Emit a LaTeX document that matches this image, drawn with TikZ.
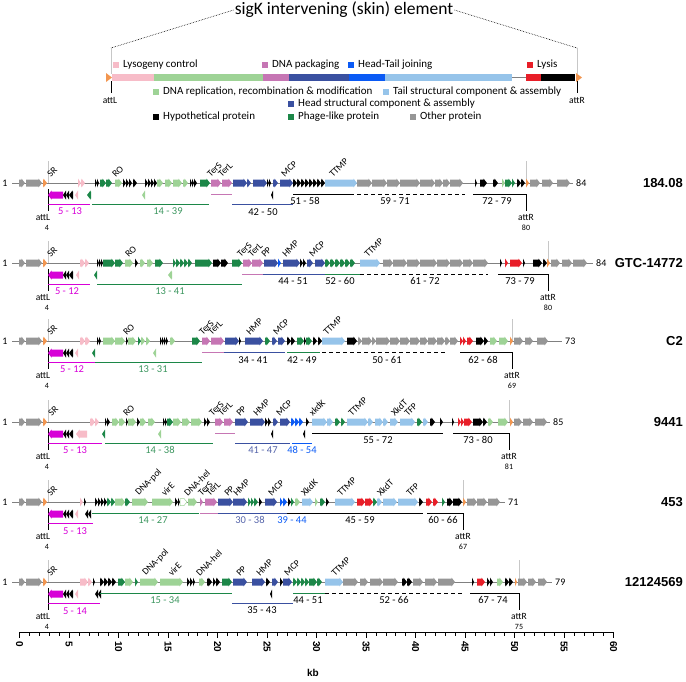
\documentclass[tikz,border=0pt]{standalone}
\usepackage{fontspec}
\setmainfont{Carlito}
\newfontfamily\arialb{Liberation Sans}

\definecolor{oth}{RGB}{150,150,150}
\definecolor{orn}{RGB}{242,150,80}
\definecolor{lys}{RGB}{247,188,200}
\definecolor{rep}{RGB}{158,211,150}
\definecolor{pak}{RGB}{198,118,180}
\definecolor{hed}{RGB}{58,80,160}
\definecolor{hdt}{RGB}{10,90,245}
\definecolor{tal}{RGB}{150,196,234}
\definecolor{lyz}{RGB}{232,30,40}
\definecolor{hyp}{RGB}{0,0,0}
\definecolor{phg}{RGB}{28,135,72}
\definecolor{srg}{RGB}{215,0,215}
\definecolor{grn}{RGB}{60,150,95}
\definecolor{slt}{RGB}{85,100,170}

\tikzset{
  gline/.style={draw=black!50, line width=0.6pt},
  attline/.style={draw=black!22, line width=0.5pt},
  mod/.style={line width=1pt},
  glab/.style={rotate=45, anchor=south west, inner sep=0pt, font=\fontsize{9.5}{10}\selectfont},
  mlab/.style={inner sep=0pt, font=\fontsize{10.5}{11}\selectfont},
  attl/.style={inner sep=0pt, font=\fontsize{9.5}{10}\selectfont},
  attn/.style={inner sep=0pt, font=\fontsize{8}{9}\selectfont},
  numl/.style={inner sep=0pt, font=\fontsize{10}{11}\selectfont},
  rname/.style={anchor=east, inner sep=0pt, font=\arialb\bfseries\fontsize{13}{14}\selectfont},
  leg/.style={anchor=west, inner sep=0pt, font=\fontsize{11}{12}\selectfont},
  tick/.style={rotate=-90, anchor=west, inner sep=0pt, font=\arialb\bfseries\fontsize{10}{10}\selectfont},
}

% forward gene from #1 to #2 on row \ry
\newcommand{\gfw}[3]{%
  \pgfmathsetmacro{\hx}{max(#1,#2-3.5)}%
  \fill[fill=#3] (#1,\ry-3.5) -- (\hx,\ry-3.5) -- (\hx,\ry-4.5) -- (#2,\ry)
    -- (\hx,\ry+4.5) -- (\hx,\ry+3.5) -- (#1,\ry+3.5) -- cycle;}
% reverse gene, drawn below the row
\newcommand{\grv}[3]{%
  \pgfmathsetmacro{\hx}{min(#2,#1+3.5)}%
  \pgfmathsetmacro{\rz}{\ry+12}%
  \fill[fill=#3] (#2,\rz-3.5) -- (\hx,\rz-3.5) -- (\hx,\rz-4.5) -- (#1,\rz)
    -- (\hx,\rz+4.5) -- (\hx,\rz+3.5) -- (#2,\rz+3.5) -- cycle;}
% one genome row: y, line end, last gene, strain, attR x, attR gene, id
\newcommand{\genome}[7]{%
  \def\ry{#1}%
  \draw[gline] (12,#1) -- (#2,#1);
  \node[numl] (one#7) at (5,#1) {1};
  \node[numl, anchor=west] (end#7) at (#2+3,#1) {#3};
  \node[rname] (name#7) at (683,#1) {#4};
  \draw[attline] (48,#1-22) -- (48,#1);
  \draw[attline] (#5,#1-22) -- (#5,#1);
  \draw[line width=0.5pt] (48,#1+6) -- (48,#1+28);
  \draw[line width=0.5pt] (#5,#1+11) -- (#5,#1+28);
  \node[attl] (attL#7) at (43,#1+34) {attL};
  \node[attn] (nL#7) at (47,#1+45) {4};
  \node[attl] (attR#7) at (#5,#1+34) {attR};
  \node[attn] (nR#7) at (#5,#1+45) {#6};
  \gfw{19}{25}{oth}\gfw{26}{42}{oth}\gfw{43}{47}{orn}
  \grv{48}{63}{srg}\grv{63}{66}{hyp}\grv{66}{69}{hyp}\grv{69}{73}{hyp}
}

\begin{document}
\begin{tikzpicture}[x=1pt, y=-1pt]
\useasboundingbox (0,0) rectangle (686,681);

% skin element overview
\node[font=\fontsize{17.5}{18}\selectfont, inner sep=1pt] (title) at (344,10) {sigK intervening (skin) element};
\draw[densely dotted, line width=0.6pt] (title.west) -- (111,48);
\draw[densely dotted, line width=0.6pt] (title.east) -- (577,48);
\draw[attline] (111,48) -- (111,74);
\draw[attline] (577,48) -- (577,74);
\draw[gline] (512,77.5) -- (526,77.5);
\fill[fill=lys] (112,74) rectangle (154,81);
\fill[fill=rep] (154,74) rectangle (263,81);
\fill[fill=pak] (263,74) rectangle (289,81);
\fill[fill=hed] (289,74) rectangle (349,81);
\fill[fill=hdt] (349,74) rectangle (385,81);
\fill[fill=tal] (385,74) rectangle (512,81);
\fill[fill=lyz] (526,74) rectangle (541,81);
\fill[fill=hyp] (541,74) rectangle (575,81);
\fill[fill=orn] (106,73) -- (112,77.5) -- (106,82) -- cycle;
\fill[fill=orn] (576,73) -- (582,77.5) -- (576,82) -- cycle;
\draw[line width=0.5pt] (111,81) -- (111,93);
\draw[line width=0.5pt] (577,81) -- (577,93);
\node[attl] (attLtop) at (110,100) {attL};
\node[attl] (attRtop) at (577,100) {attR};

% legend
\foreach \x/\y/\c/\t in {113/65/lys/Lysogeny control, 262/65/pak/DNA packaging,
    348/65/hdt/Head-Tail joining, 527/65/lyz/Lysis,
    153/92/rep/{DNA replication, recombination \& modification},
    383/92/tal/Tail structural component \& assembly,
    288/104/hed/Head structural component \& assembly,
    153/117/hyp/Hypothetical protein, 288/117/phg/Phage-like protein, 410/117/oth/Other protein} {
  \fill[fill=\c] (\x,\y-3) rectangle (\x+6,\y+3);
  \node[leg] (leg\x-\y) at (\x+10,\y) {\t};
}

% 184.08
\genome{183}{573}{84}{184.08}{526}{80}{a}
\foreach \a/\b/\c in {78/81/lys, 81/85/lys, 95/97/hyp, 97/99/hyp, 100/106/phg, 106/112/phg,
    115/122/rep, 123/126/hyp, 126/129/hyp, 129/132/hyp, 133/137/hyp, 145/148/hyp, 148/151/hyp,
    151/154/hyp, 154/157/hyp, 157/163/rep, 165/172/rep, 173/182/rep, 183/188/rep, 190/192/hyp,
    192/194/hyp, 194/197/hyp, 200/210/phg, 211/221/pak, 222/232/pak, 233/247/hed, 247/251/hed,
    253/267/hed, 267/269/hyp, 269/271/hyp, 273/278/hed, 280/293/hed, 293/297/hyp, 297/301/hyp,
    301/305/hyp, 305/309/hyp, 309/313/hyp, 313/317/hyp, 317/321/hyp, 321/325/hyp, 325/357/tal,
    357/372/oth, 372/387/oth, 387/400/oth, 400/420/oth, 420/435/oth, 435/443/oth, 443/450/oth,
    450/463/oth, 475/477/hyp, 480/487/hyp, 493/498/hyp, 502/505/rep, 505/512/phg, 512/515/phg,
    517/521/hyp, 521/525/hyp, 526/529/orn, 530/540/oth, 542/553/oth, 557/570/oth}
  \gfw{\a}{\b}{\c};
\foreach \a/\b/\c in {75/78/lys, 87/91/phg, 142/145/rep, 271/273/hyp}
  \grv{\a}{\b}{\c};
\foreach \a/\b/\c/\d in {48/90/srg/21, 92/209/phg/21, 211/232/pak/11, 232/293/hed/21,
    293/350/hyp/11, 473/526/hyp/11}
  \draw[mod, color=\c] (\a,\ry+\d) -- (\b,\ry+\d);
\draw[mod, dash pattern=on 4pt off 3pt] (350,\ry+11) -- (465,\ry+11);
\foreach \x/\y/\c/\t in {70/28/srg/5 - 13, 168/28/grn/14 - 39, 263/29/hyp/42 - 50,
    305/18/hyp/51 - 58, 395/18/hyp/59 - 71, 497/18/hyp/72 - 79}
  \node[mlab, text=\c] (m\ry-\x) at (\x,\ry+\y) {\t};
\foreach \x/\t in {51/SR, 116/RO, 211/TerS, 222/TerL, 285/MCP, 333/TTMP}
  \node[glab] (g\ry-\x) at (\x,\ry-5) {\t};

% GTC-14772
\genome{263}{593}{84}{GTC-14772}{548}{80}{b}
\foreach \a/\b/\c in {80/85/lys, 85/89/lys, 97/99/hyp, 99/101/hyp, 101/103/hyp, 103/115/phg,
    115/123/phg, 125/133/rep, 135/138/hyp, 140/145/rep, 147/153/rep, 155/163/phg, 173/176/phg,
    176/180/phg, 180/184/phg, 184/188/phg, 188/192/phg, 195/212/phg, 213/221/hyp, 221/228/hyp,
    232/242/phg, 243/252/pak, 252/263/pak, 264/278/hed, 278/281/hdt, 283/300/hed, 300/303/hyp,
    303/306/hyp, 307/313/hed, 315/325/hed, 325/330/phg, 330/335/phg, 335/340/phg, 340/345/phg,
    345/350/phg, 350/355/phg, 360/380/tal, 383/393/oth, 393/407/oth, 407/420/oth, 420/437/oth,
    437/450/oth, 450/463/oth, 463/473/oth, 473/488/oth, 500/502/hyp, 505/508/lyz, 510/522/lyz,
    523/525/hyp, 533/542/hyp, 543/547/hyp, 547/550/orn, 551/560/oth, 562/572/oth, 573/587/oth}
  \gfw{\a}{\b}{\c};
\foreach \a/\b/\c in {76/79/lys, 94/97/phg, 168/172/rep}
  \grv{\a}{\b}{\c};
\foreach \a/\b/\c/\d in {48/90/srg/21, 97/242/phg/21, 242/263/pak/11, 263/325/hed/11,
    325/360/phg/11, 498/548/hyp/11}
  \draw[mod, color=\c] (\a,\ry+\d) -- (\b,\ry+\d);
\draw[mod, dash pattern=on 4pt off 3pt] (360,\ry+11) -- (488,\ry+11);
\foreach \x/\y/\c/\t in {67/28/srg/5 - 12, 170/28/grn/13 - 41, 293/18/hyp/44 - 51,
    340/18/hyp/52 - 60, 425/18/hyp/61 - 72, 520/18/hyp/73 - 79}
  \node[mlab, text=\c] (m\ry-\x) at (\x,\ry+\y) {\t};
\foreach \x/\t in {51/SR, 129/RO, 241/TerS, 252/TerL, 265/PP, 286/HMP, 313/MCP, 368/TTMP}
  \node[glab] (g\ry-\x) at (\x,\ry-5) {\t};

% C2
\genome{341}{562}{73}{C2}{512}{69}{c}
\foreach \a/\b/\c in {80/85/lys, 85/90/lys, 97/99/hyp, 99/101/hyp, 103/115/rep, 115/125/rep,
    126/128/hyp, 128/136/rep, 138/141/phg, 141/145/rep, 146/150/rep, 160/162/hyp, 162/164/hyp,
    164/166/hyp, 166/168/hyp, 170/175/rep, 192/200/phg, 202/210/pak, 211/224/pak, 225/239/hed,
    239/241/hyp, 245/263/hed, 265/270/phg, 272/277/hed, 278/285/hed, 287/291/hyp, 291/295/hyp,
    297/304/phg, 304/306/hyp, 306/312/phg, 313/317/hyp, 318/322/hyp, 322/345/tal, 347/357/hyp,
    358/362/oth, 362/372/oth, 372/376/oth, 376/390/oth, 390/400/oth, 400/410/oth, 410/420/oth,
    420/428/oth, 428/437/oth, 437/445/oth, 445/450/oth, 450/458/oth, 460/463/lyz, 463/466/lyz,
    467/473/lyz, 476/484/hyp, 484/488/hyp, 490/497/rep, 499/508/rep, 510/513/orn, 514/523/oth,
    525/533/oth, 537/548/oth}
  \gfw{\a}{\b}{\c};
\foreach \a/\b/\c in {75/78/lys, 92/95/phg, 153/156/rep}
  \grv{\a}{\b}{\c};
\foreach \a/\b/\c/\d in {202/224/pak/11, 224/285/hed/11, 287/320/phg/11, 460/512/hyp/11,
    48/95/srg/21, 95/202/phg/21}
  \draw[mod, color=\c] (\a,\ry+\d) -- (\b,\ry+\d);
\draw[mod, dash pattern=on 4pt off 3pt] (322,\ry+11) -- (447,\ry+11);
\foreach \x/\y/\c/\t in {72/28/srg/5 - 12, 153/28/grn/13 - 31, 253/19/hyp/34 - 41,
    302/19/hyp/42 - 49, 387/19/hyp/50 - 61, 483/19/hyp/62 - 68}
  \node[mlab, text=\c] (m\ry-\x) at (\x,\ry+\y) {\t};
\foreach \x/\t in {51/SR, 127/RO, 203/TerS, 212/TerL, 250/HMP, 277/MCP, 327/TTMP}
  \node[glab] (g\ry-\x) at (\x,\ry-5) {\t};

% 9441
\genome{422}{550}{85}{9441}{509}{81}{d}
\foreach \a/\b/\c in {90/95/lys, 95/99/lys, 105/107/hyp, 107/110/hyp, 112/119/rep, 119/125/rep,
    126/128/hyp, 128/136/rep, 137/140/hyp, 140/146/rep, 148/155/rep, 163/165/hyp, 165/167/hyp,
    167/173/phg, 173/181/rep, 182/190/rep, 191/202/rep, 204/207/hyp, 207/210/hyp, 215/223/pak,
    224/233/pak, 235/248/hed, 250/265/hed, 265/268/hyp, 268/271/hyp, 273/278/hed, 280/290/hed,
    291/295/hdt, 295/299/hdt, 299/303/hdt, 306/309/hyp, 312/327/tal, 327/333/tal, 335/340/phg,
    341/345/phg, 347/368/tal, 368/373/tal, 375/383/tal, 383/388/tal, 390/398/tal, 400/415/tal,
    417/422/phg, 423/428/tal, 430/435/hyp, 440/443/hyp, 452/454/hyp, 458/461/lyz, 461/464/lyz,
    464/472/lyz, 473/483/hyp, 483/487/hyp, 488/493/rep, 498/508/rep, 510/513/orn, 514/522/oth,
    523/533/oth, 535/547/oth}
  \gfw{\a}{\b}{\c};
\foreach \a/\b/\c in {76/87/lys, 102/105/phg, 158/161/rep, 271/273/hyp, 303/305/hyp}
  \grv{\a}{\b}{\c};
\foreach \a/\b/\c/\d in {215/235/pak/11, 312/443/hyp/11, 453/509/hyp/11, 48/102/srg/21,
    105/213/phg/21, 235/290/hed/21, 292/312/hdt/21}
  \draw[mod, color=\c] (\a,\ry+\d) -- (\b,\ry+\d);
\foreach \x/\y/\c/\t in {75/28/srg/5 - 13, 160/28/grn/14 - 38, 263/28/slt/41 - 47,
    302/28/hdt/48 - 54, 378/18/hyp/55 - 72, 478/18/hyp/73 - 80}
  \node[mlab, text=\c] (m\ry-\x) at (\x,\ry+\y) {\t};
\foreach \x/\t in {52/SR, 127/RO, 213/TerS, 222/TerL, 240/PP, 257/HMP, 280/MCP, 313/xkdK,
    352/TTMP, 395/XkdT, 408/TFP}
  \node[glab] (g\ry-\x) at (\x,\ry-5) {\t};

% 453
\genome{502}{505}{71}{453}{463}{67}{e}
\foreach \a/\b/\c in {80/83/lys, 84/86/hyp, 95/98/hyp, 98/101/hyp, 101/104/hyp, 104/107/hyp,
    107/111/phg, 111/115/phg, 115/125/rep, 125/130/phg, 132/148/rep, 152/173/rep, 175/178/hyp,
    178/180/hyp, 188/197/rep, 200/203/pak, 205/217/pak, 218/233/hed, 233/247/hed, 248/251/phg,
    251/254/phg, 254/258/phg, 259/262/hyp, 265/277/hed, 280/283/hdt, 283/287/hdt, 288/291/hyp,
    291/294/phg, 295/300/rep, 302/313/tal, 315/318/rep, 320/325/phg, 326/329/hyp, 335/355/tal,
    357/365/lyz, 365/373/lyz, 373/377/phg, 377/382/tal, 383/397/tal, 398/418/tal, 419/423/hyp,
    426/432/lyz, 433/438/lyz, 442/445/phg, 447/453/hyp, 453/462/hyp, 463/466/orn, 467/477/oth,
    477/487/oth, 488/500/oth}
  \gfw{\a}{\b}{\c};
\filldraw[draw=rep, fill=white, line width=0.5pt] (180,\ry-3.5) -- (184,\ry-3.5) -- (187,\ry)
  -- (184,\ry+3.5) -- (180,\ry+3.5) -- cycle;
\foreach \a/\b/\c in {75/78/lys, 85/88/hyp, 88/91/hyp}
  \grv{\a}{\b}{\c};
\foreach \a/\b/\c/\d in {92/199/phg/11, 200/218/pak/11, 218/287/hed/11, 287/423/hyp/11,
    427/463/hyp/11, 48/93/srg/21}
  \draw[mod, color=\c] (\a,\ry+\d) -- (\b,\ry+\d);
\foreach \x/\y/\c/\t in {75/29/srg/5 - 13, 153/18/grn/14 - 27, 250/18/slt/30 - 38,
    292/18/hdt/39 - 44, 360/18/hyp/45 - 59, 443/18/hyp/60 - 66}
  \node[mlab, text=\c] (m\ry-\x) at (\x,\ry+\y) {\t};
\foreach \x/\t in {51/SR, 140/DNA-pol, 165/virE, 188/DNA-hel, 202/TerS, 210/TerL, 228/PP,
    237/HMP, 272/MCP, 305/XkdK, 341/TTMP, 381/XkdT, 410/TFP}
  \node[glab] (g\ry-\x) at (\x,\ry-5) {\t};

% 12124569
\genome{582}{552}{79}{12124569}{519}{75}{f}
\foreach \a/\b/\c in {80/88/lys, 88/92/lys, 93/95/hyp, 100/104/hyp, 104/108/hyp, 108/112/hyp,
    112/116/hyp, 118/125/phg, 125/133/rep, 135/138/phg, 140/158/rep, 160/183/rep, 187/190/hyp,
    190/193/hyp, 193/195/hyp, 199/205/rep, 207/212/hyp, 213/216/hyp, 216/220/hyp, 222/232/phg,
    233/247/hed, 252/265/hed, 266/270/hyp, 272/278/hed, 280/283/hyp, 283/292/hed, 293/297/phg,
    297/301/phg, 301/305/phg, 305/309/phg, 309/317/phg, 317/322/phg, 325/343/tal, 343/358/oth,
    360/368/oth, 370/383/oth, 383/398/oth, 402/407/hyp, 407/412/hyp, 413/423/oth, 425/437/oth,
    438/455/oth, 472/474/hyp, 477/485/lyz, 487/490/hyp, 490/493/hyp, 497/503/rep, 505/509/hyp,
    509/513/hyp, 515/517/orn, 518/527/oth, 528/536/oth, 538/547/oth}
  \gfw{\a}{\b}{\c};
\foreach \a/\b/\c in {75/78/lys, 95/98/hyp, 98/101/hyp, 270/272/hyp}
  \grv{\a}{\b}{\c};
\foreach \a/\b/\c/\d in {100/232/phg/11, 293/325/phg/11, 470/519/hyp/11, 48/100/srg/21,
    232/293/hed/21}
  \draw[mod, color=\c] (\a,\ry+\d) -- (\b,\ry+\d);
\draw[mod, dash pattern=on 4pt off 3pt] (325,\ry+11) -- (462,\ry+11);
\foreach \x/\y/\c/\t in {75/29/srg/5 - 14, 165/18/grn/15 - 34, 262/28/hyp/35 - 43,
    308/18/hyp/44 - 51, 394/18/hyp/52 - 66, 493/18/hyp/67 - 74}
  \node[mlab, text=\c] (m\ry-\x) at (\x,\ry+\y) {\t};
\foreach \x/\t in {51/SR, 147/DNA-pol, 172/virE, 200/DNA-hel, 240/PP, 260/HMP, 288/MCP,
    335/TTMP}
  \node[glab] (g\ry-\x) at (\x,\ry-5) {\t};

% kb axis
\draw[line width=0.6pt] (19.5,632) -- (613.5,632);
\foreach \k in {0,...,60}
  \draw[line width=0.6pt] ({19.5+9.9*\k},632) -- ({19.5+9.9*\k},636);
\foreach \k in {0,5,...,60} {
  \draw[line width=0.6pt] ({19.5+9.9*\k},632) -- ({19.5+9.9*\k},638);
  \node[tick] (t\k) at ({19.5+9.9*\k},641) {\k};
}
\node[font=\arialb\bfseries\fontsize{10}{10}\selectfont, inner sep=0pt] (kb) at (313,673) {kb};
\end{tikzpicture}
\end{document}
